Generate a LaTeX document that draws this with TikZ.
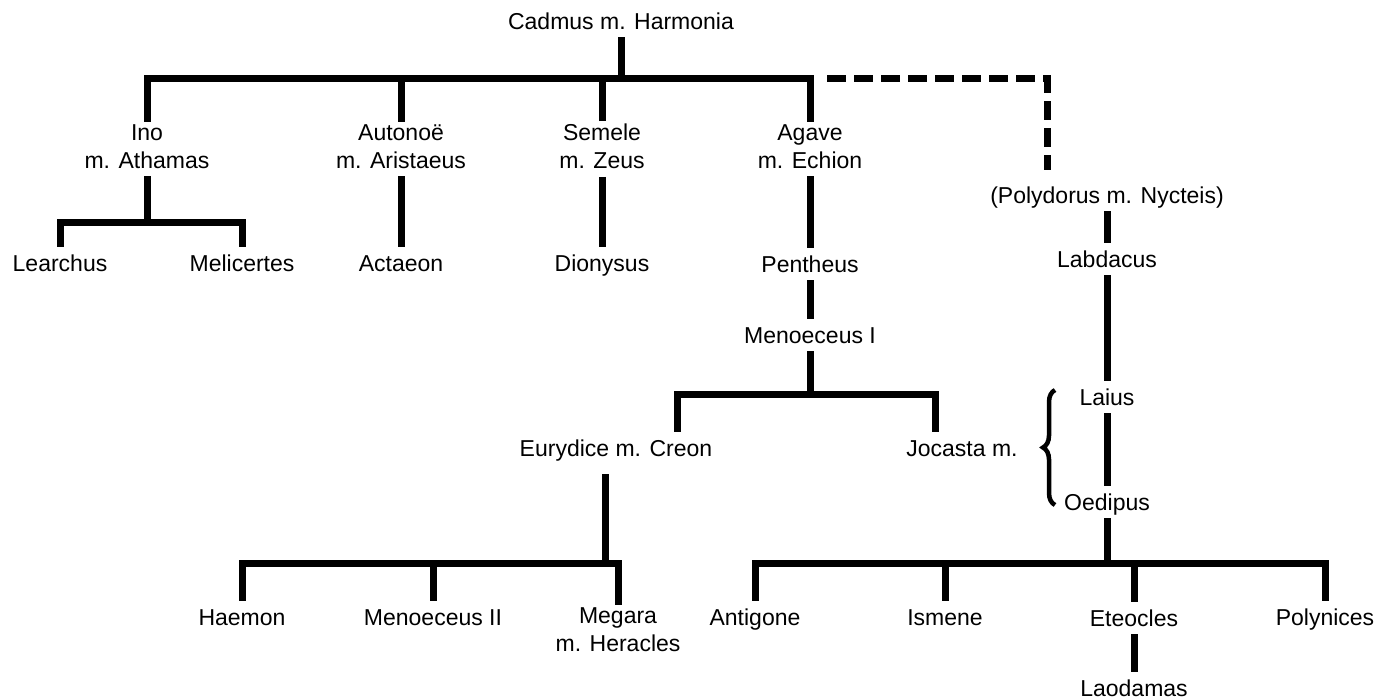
\documentclass[tikz,border=0pt]{standalone}
\usepackage{fontspec}
\setmainfont{Liberation Sans}
\usepackage{tikz}
\usetikzlibrary{decorations.pathreplacing}

\newcommand{\famstrut}{\rule[-5pt]{0pt}{26.5pt}}

\begin{document}
\begin{tikzpicture}[
    x=1pt, y=-1pt,
    person/.style={inner sep=0pt, outer sep=3pt, align=center, font=\fontsize{23}{28}\selectfont,
        execute at begin node=\famstrut, execute at end node=\famstrut},
    bar/.style={line width=7pt},
    dashbar/.style={line width=7pt, dash pattern=on 19pt off 8pt},
    bracket/.style={line width=4.5pt, decorate, decoration={brace, amplitude=12pt}},
]
\useasboundingbox (0,0) rectangle (1378,699);

% Cadmus and his children
\node[person] (cadmus) at (621,21) {Cadmus m. Harmonia};
\node[person] (ino) at (147,149) {Ino\\m. Athamas};
\node[person] (autonoe) at (401,149) {Autonoë\\m. Aristaeus};
\node[person] (semele) at (602,149) {Semele\\m. Zeus};
\node[person] (agave) at (810,149) {Agave\\m. Echion};
\node[person] (polydorus) at (1107,195) {(Polydorus m. Nycteis)};

% Grandchildren
\node[person] (learchus) at (60,263) {Learchus};
\node[person] (melicertes) at (242,263) {Melicertes};
\node[person] (actaeon) at (401,263) {Actaeon};
\node[person] (dionysus) at (602,263) {Dionysus};
\node[person] (pentheus) at (810,264) {Pentheus};
\node[person] (labdacus) at (1107,259) {Labdacus};

% Later generations
\node[person] (menoeceus1) at (810,335) {Menoeceus I};
\node[person] (creon) at (616,448) {Eurydice m. Creon};
\node[person] (jocasta) at (962,448) {Jocasta m.};
\node[person] (laius) at (1107,397) {Laius};
\node[person] (oedipus) at (1107,502) {Oedipus};

\node[person] (haemon) at (242,617) {Haemon};
\node[person] (menoeceus2) at (433,617) {Menoeceus II};
\node[person] (megara) at (618,632) {Megara\\m. Heracles};
\node[person] (antigone) at (755,617) {Antigone};
\node[person] (ismene) at (945,617) {Ismene};
\node[person] (eteocles) at (1134,618) {Eteocles};
\node[person] (polynices) at (1325,617) {Polynices};
\node[person] (laodamas) at (1134,688) {Laodamas};

% === Junctions ===
\coordinate (cadj) at (621,78);
\coordinate (polyj) at (1047,170);
\coordinate (inoj) at (147,222);
\coordinate (menj) at (810,394);
\coordinate (creonj) at (605,563);
\coordinate (oedj) at (1107,563);
\coordinate (bracetop) at (1055,390);
\coordinate (bracebot) at (1055,505);

% === Cadmus line ===
\draw[bar] (cadmus) -- (cadj);
\draw[bar] (ino.north) |- (cadj) -| (agave.north);
\draw[bar] (autonoe.north) -- (autonoe.north |- cadj);
\draw[bar] (semele.north) -- (semele.north |- cadj);
\draw[dashbar, shorten <=17pt] (agave.north |- cadj) -| (polyj);

\draw[bar] (ino) -- (inoj);
\draw[bar] (learchus.north) |- (inoj) -| (melicertes.north);
\draw[bar] (autonoe) -- (actaeon);
\draw[bar] (semele) -- (dionysus);
\draw[bar] (agave) -- (pentheus);
\draw[bar] (pentheus) -- (menoeceus1);

% === Menoeceus I and Creon ===
\draw[bar] (menoeceus1) -- (menj);
\draw[bar] ([xshift=61pt]creon.north) |- (menj) -| ([xshift=-27pt]jocasta.north);
\draw[bar] ([xshift=-11pt,yshift=-10pt]creon.south) -- (creonj);
\draw[bar] (haemon.north) |- (creonj) -| (megara.north);
\draw[bar] (menoeceus2) -- (menoeceus2 |- creonj);

% === Labdacids ===
\draw[bar] (polydorus) -- (labdacus);
\draw[bar] (labdacus) -- (laius);
\draw[bar] (laius) -- (oedipus);
\draw[bar] (oedipus) -- (oedj);
\draw[bar] (antigone.north) |- (oedj) -| (polynices.north);
\draw[bar] (ismene) -- (ismene |- oedj);
\draw[bar] (eteocles) -- (eteocles |- oedj);
\draw[bar] (eteocles) -- (laodamas);

\draw[bracket] (bracebot) -- (bracetop);

\end{tikzpicture}
\end{document}
